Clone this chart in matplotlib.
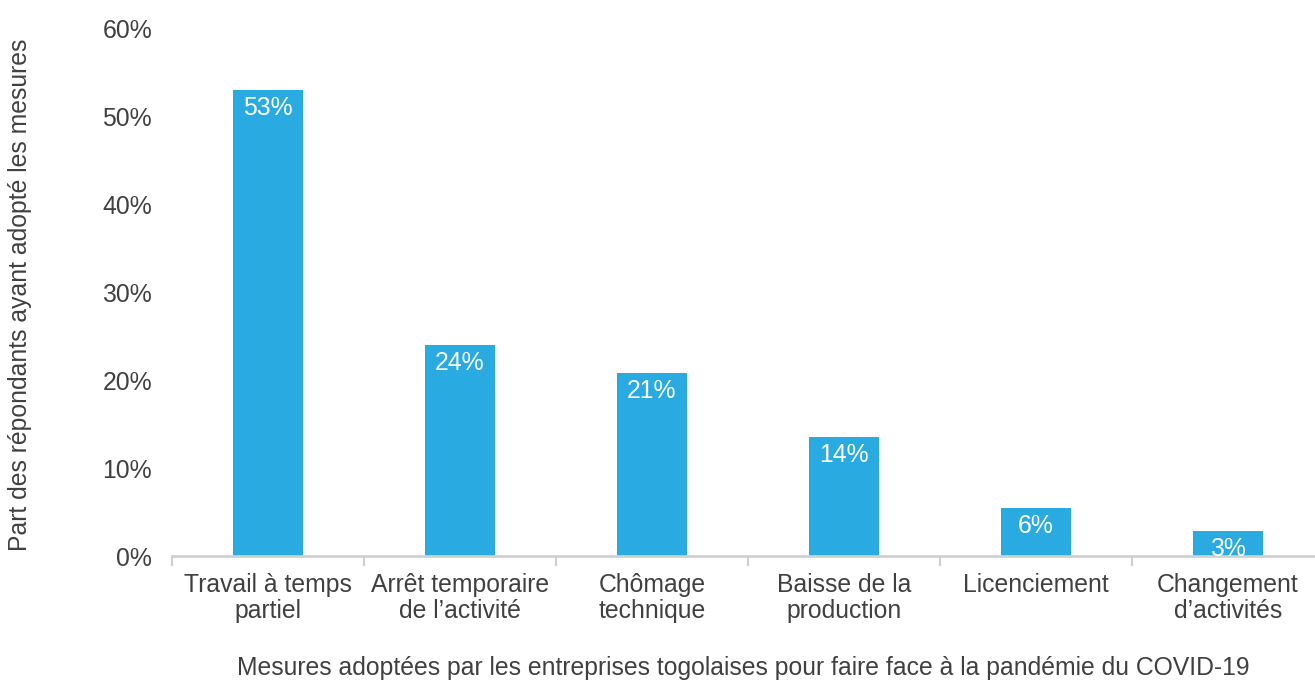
import matplotlib
matplotlib.use("Agg")
import matplotlib.pyplot as plt
from matplotlib.ticker import FixedLocator, PercentFormatter

categories = ["Travail à temps\npartiel", "Arrêt temporaire\nde l’activité", "Chômage\ntechnique",
              "Baisse de la\nproduction", "Licenciement", "Changement\nd’activités"]
values = [52.9, 24.0, 20.8, 13.5, 5.5, 2.8]
labels = ["53%", "24%", "21%", "14%", "6%", "3%"]
yticks = [0, 10, 20, 30, 40, 50, 60]

W, H = 1315, 682
fig = plt.figure(figsize=(W / 100, H / 100), dpi=100)
plt.rcParams['font.family'] = ['Liberation Sans', 'DejaVu Sans']
txt = "#404040"
fs = 17.8
left, right, top, bottom = 172, 1315, 28, 556
ax = fig.add_axes([left / W, (H - bottom) / H, (right - left) / W, (bottom - top) / H])

x = list(range(len(categories)))
ax.bar(x, values, width=0.365, color="#29ABE2", zorder=2)
for xi, v, lab in zip(x, values, labels):
    ax.annotate(lab, (xi, v), xytext=(0, -18), textcoords="offset pixels",
                ha="center", va="center", color="white", fontsize=fs, zorder=3)

ax.set_xlim(-0.5, -0.5 + (right - left) / 192)
ax.set_ylim(0, 60)
ax.set_yticks(yticks)
ax.yaxis.set_major_formatter(PercentFormatter(decimals=0))
ax.set_xticks(x)
ax.set_xticklabels(categories, fontsize=fs, color=txt, linespacing=1.1)
ax.xaxis.set_minor_locator(FixedLocator([i - 0.5 for i in range(len(categories) + 1)]))
ax.tick_params(axis="x", which="major", length=0, pad=12)
ax.tick_params(axis="x", which="minor", length=7, width=1.5, color="#d0d0d0")
ax.tick_params(axis="y", length=0, pad=14.4, labelsize=fs, labelcolor=txt)

for s in ["top", "right", "left"]:
    ax.spines[s].set_visible(False)
ax.spines["bottom"].set_color("#d0d0d0")
ax.spines["bottom"].set_linewidth(2)

fig.text(20 / W, 1 - 295 / H, "Part des répondants ayant adopté les mesures", rotation=90,
         ha="center", va="center", fontsize=fs, color=txt)
fig.text((left + right) / 2 / W, 1 - 668 / H,
         "Mesures adoptées par les entreprises togolaises pour faire face à la pandémie du COVID-19",
         ha="center", va="center", fontsize=fs, color=txt)

fig.savefig("out.png", dpi=100)
